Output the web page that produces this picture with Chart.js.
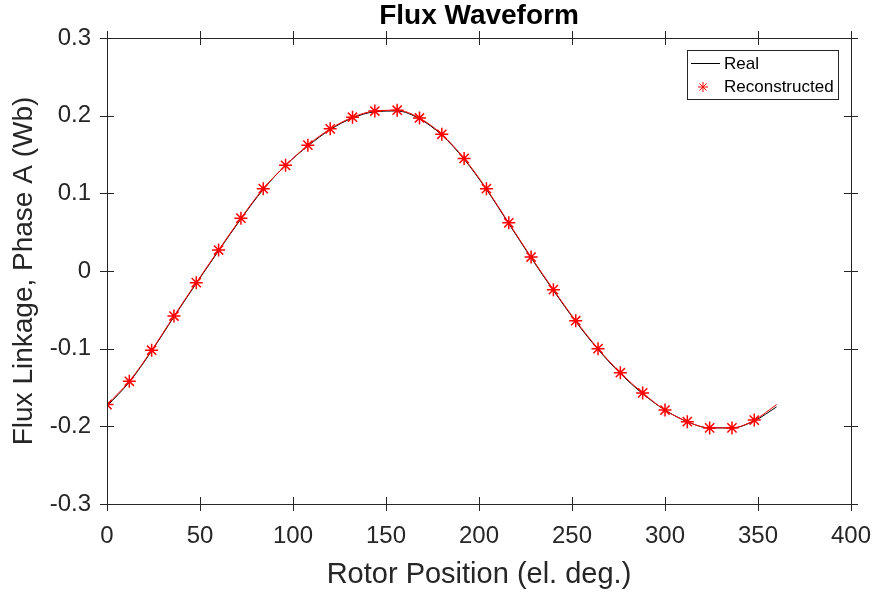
<!DOCTYPE html>
<html>
<head>
<meta charset="utf-8">
<script src="https://cdn.jsdelivr.net/npm/chart.js@4"></script>
<style>
  html, body { margin: 0; padding: 0; background: #fff; }
  #wrap { width: 876px; height: 596px; }
</style>
</head>
<body>
<div id="wrap"><canvas id="fluxChart"></canvas></div>
<script>
// rotor position (el. deg.) of the samples
const angles = [0, 12, 24, 36, 48, 60, 72, 84, 96, 108, 120, 132, 144, 156, 168, 180,
  192, 204, 216, 228, 240, 252, 264, 276, 288, 300, 312, 324, 336, 348, 360];

// flux linkage (Wb)
const realFlux = [-0.174, -0.143, -0.103, -0.059, -0.016, 0.026, 0.067, 0.105, 0.136, 0.161,
  0.182, 0.197, 0.205, 0.206, 0.196, 0.175, 0.144, 0.105, 0.061, 0.017, -0.025, -0.065,
  -0.101, -0.132, -0.158, -0.179, -0.194, -0.202, -0.202, -0.193, -0.175];
const reconFlux = [-0.172, -0.142, -0.102, -0.058, -0.015, 0.027, 0.068, 0.106, 0.136, 0.162,
  0.183, 0.198, 0.206, 0.207, 0.197, 0.176, 0.145, 0.106, 0.062, 0.018, -0.024, -0.064,
  -0.100, -0.131, -0.157, -0.179, -0.194, -0.202, -0.202, -0.192, -0.172];

const xTicks = [0, 50, 100, 150, 200, 250, 300, 350, 400];
const yTicks = [-0.3, -0.2, -0.1, 0, 0.1, 0.2, 0.3];

const chartTitle = 'Flux Waveform';
const AXIS_COLOR = '#262626';
const FONT = 'Liberation Sans, Arial, Helvetica, sans-serif';

function toPoints(ys) {
  return angles.map((a, i) => ({ x: a, y: ys[i] }));
}

// MATLAB-style box with ticks on all four sides, title over the axes, boxed legend
const boxPlugin = {
  id: 'box',
  afterDraw(chart) {
    const { ctx, chartArea: a, scales } = chart;
    ctx.save();
    ctx.strokeStyle = AXIS_COLOR;
    ctx.lineWidth = 1;
    ctx.strokeRect(a.left + 0.5, a.top + 0.5, a.right - a.left, a.bottom - a.top);
    const t = 7;
    ctx.beginPath();
    xTicks.forEach(v => {
      const px = Math.round(scales.x.getPixelForValue(v)) + 0.5;
      ctx.moveTo(px, a.bottom - t); ctx.lineTo(px, a.bottom + t);
      ctx.moveTo(px, a.top - t); ctx.lineTo(px, a.top + t);
    });
    yTicks.forEach(v => {
      const py = Math.round(scales.y.getPixelForValue(v)) + 0.5;
      ctx.moveTo(a.left - t, py); ctx.lineTo(a.left + t, py);
      ctx.moveTo(a.right - t, py); ctx.lineTo(a.right + t, py);
    });
    ctx.stroke();

    // title, centred over the axes
    ctx.fillStyle = '#000';
    ctx.font = 'bold 28px ' + FONT;
    ctx.textAlign = 'center';
    ctx.textBaseline = 'middle';
    ctx.fillText(chartTitle, (a.left + a.right) / 2, 16);

    // legend
    const lx = 687, ly = 50, lw = 151, lh = 49;
    ctx.fillStyle = '#fff';
    ctx.fillRect(lx, ly, lw, lh);
    ctx.strokeStyle = AXIS_COLOR;
    ctx.strokeRect(lx + 0.5, ly + 0.5, lw, lh);
    ctx.font = '17px ' + FONT;
    ctx.textAlign = 'left';
    ctx.fillStyle = '#000';
    const ds = chart.data.datasets;
    // Real: line sample
    ctx.strokeStyle = ds[0].borderColor;
    ctx.beginPath(); ctx.moveTo(691, 63.5); ctx.lineTo(720, 63.5); ctx.stroke();
    ctx.fillText(ds[0].label, 724, 64);
    // Reconstructed: asterisk sample
    ctx.strokeStyle = ds[1].pointBorderColor;
    const cx = 703, cy = 87, r = 5;
    ctx.beginPath();
    ctx.moveTo(cx - r, cy); ctx.lineTo(cx + r, cy);
    ctx.moveTo(cx, cy - r); ctx.lineTo(cx, cy + r);
    const d = r * 0.707;
    ctx.moveTo(cx - d, cy - d); ctx.lineTo(cx + d, cy + d);
    ctx.moveTo(cx - d, cy + d); ctx.lineTo(cx + d, cy - d);
    ctx.stroke();
    ctx.fillText(ds[1].label, 724, 87);
    ctx.restore();
  }
};

new Chart(document.getElementById('fluxChart'), {
  type: 'line',
  data: {
    datasets: [{
      label: 'Real',
      data: toPoints(realFlux),
      borderColor: '#000000',
      borderWidth: 1,
      pointRadius: 0,
      cubicInterpolationMode: 'monotone',
      order: 2
    }, {
      label: 'Reconstructed',
      data: toPoints(reconFlux),
      borderColor: '#ff0000',
      borderWidth: 1,
      pointStyle: 'star',
      pointRadius: ctx => (ctx.raw && ctx.raw.x > 350 ? 0 : 6.5),
      pointBorderColor: '#ff0000',
      pointBorderWidth: 1.5,
      cubicInterpolationMode: 'monotone',
      order: 1
    }]
  },
  options: {
    responsive: true,
    maintainAspectRatio: false,
    animation: false,
    layout: { padding: { top: 38, right: 25, left: 0, bottom: 0 } },
    plugins: {
      legend: { display: false },
      tooltip: { enabled: false },
      title: { display: false }
    },
    scales: {
      x: {
        type: 'linear',
        min: 0, max: 400,
        afterBuildTicks: s => { s.ticks = xTicks.map(v => ({ value: v })); },
        afterFit: s => { s.height = 92; s.paddingLeft = 0; s.paddingRight = 0; },
        grid: { display: false, drawTicks: false },
        border: { display: false },
        ticks: { color: AXIS_COLOR, font: { family: FONT, size: 24 }, padding: 18, maxRotation: 0 },
        title: {
          display: true,
          text: 'Rotor Position (el. deg.)',
          color: AXIS_COLOR,
          font: { family: FONT, size: 29 },
          padding: { top: 0, bottom: 4 }
        }
      },
      y: {
        min: -0.3, max: 0.3,
        afterBuildTicks: s => { s.ticks = yTicks.map(v => ({ value: v })); },
        afterFit: s => { s.width = 107; s.paddingTop = 0; s.paddingBottom = 0; },
        grid: { display: false, drawTicks: false },
        border: { display: false },
        ticks: {
          color: AXIS_COLOR,
          font: { family: FONT, size: 24 },
          padding: 16,
          callback: v => String(Math.round(v * 10) / 10)
        },
        title: {
          display: true,
          text: 'Flux Linkage, Phase A (Wb)',
          color: AXIS_COLOR,
          font: { family: FONT, size: 28 },
          padding: { top: 7, bottom: 0 }
        }
      }
    }
  },
  plugins: [boxPlugin]
});
</script>
</body>
</html>
